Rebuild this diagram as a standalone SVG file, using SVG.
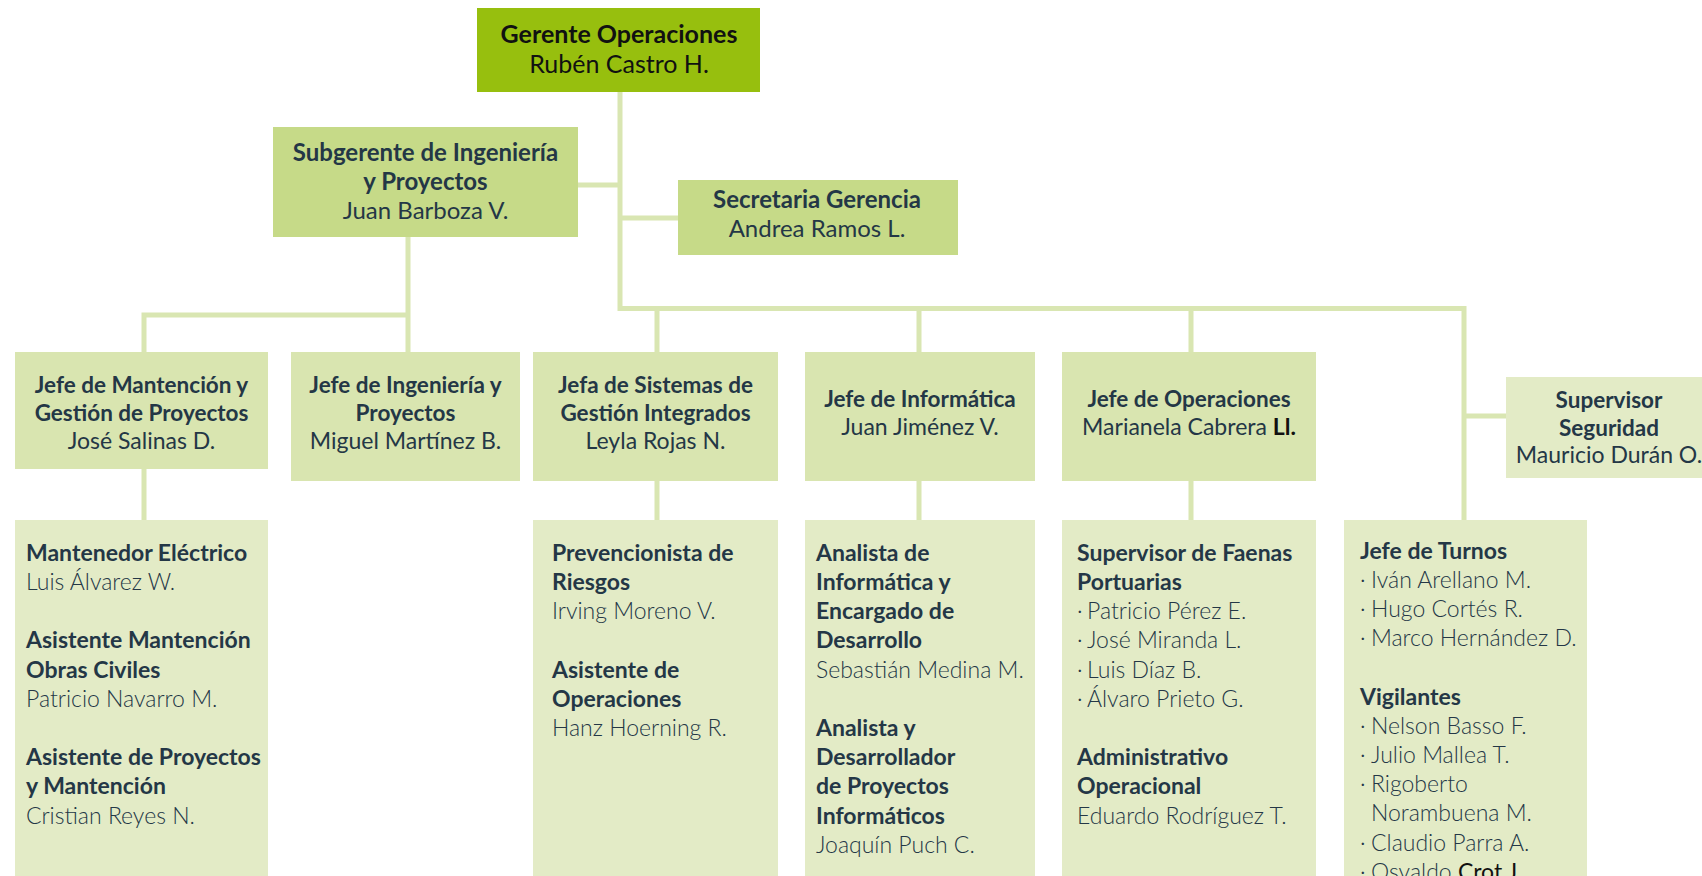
<svg xmlns="http://www.w3.org/2000/svg" width="1702" height="876" viewBox="0 0 1702 876">
<style>
text{font-family:Lato,"Open Sans","Liberation Sans",sans-serif;fill:#243746}
.c{text-anchor:middle}
.t{font-weight:700;font-size:24px}
.h{font-weight:700;font-size:22.5px}
.n{font-weight:400;font-size:23px}
.b{font-weight:700;font-size:23px}
.l{font-weight:300;font-size:23px}
.k{fill:#111}
.top{fill:#97bf0e}
.mid{fill:#c6da88}
.l2{fill:#d9e5b0}
.l3{fill:#e3ebc6}
#connectors path{fill:none;stroke:#d9e6b2;stroke-width:5}
</style>
<g id="connectors">
<path d="M620 92 V308.5 H1464 V520"/>
<path d="M578 185 H620"/>
<path d="M620 218 H678"/>
<path d="M657 308.5 V352 M919 308.5 V352 M1191 308.5 V352"/>
<path d="M1464 416 H1506"/>
<path d="M408 237 V352 M408 315 H144 V352"/>
<path d="M144 469 V520 M657 481 V520 M919 481 V520 M1191 481 V520"/>
</g>
<g id="gerente">
<rect class="top" x="477" y="8" width="283" height="84"/>
<text class="c t k" x="619" y="43" style="font-size:25px">Gerente Operaciones</text>
<text class="c n k" x="619" y="72.5" style="font-size:25px">Rubén Castro H.</text>
</g>
<g id="subgerente">
<rect class="mid" x="273" y="127" width="305" height="110"/>
<text class="c t" x="425.5" y="161">Subgerente de Ingeniería</text>
<text class="c t" x="425.5" y="190">y Proyectos</text>
<text class="c n" x="425.5" y="219" style="font-size:24px">Juan Barboza V.</text>
</g>
<g id="secretaria">
<rect class="mid" x="678" y="180" width="280" height="75"/>
<text class="c t" x="817" y="208">Secretaria Gerencia</text>
<text class="c n" x="817" y="237" style="font-size:24px">Andrea Ramos L.</text>
</g>
<g id="jefe-mantencion">
<rect class="l2" x="15" y="352" width="253" height="117"/>
<text class="c h" x="141.5" y="393">Jefe de Mantención y</text>
<text class="c h" x="141.5" y="421">Gestión de Proyectos</text>
<text class="c n" x="141.5" y="449">José Salinas D.</text>
</g>
<g id="jefe-ingenieria">
<rect class="l2" x="291" y="352" width="229" height="129"/>
<text class="c h" x="405.5" y="393">Jefe de Ingeniería y</text>
<text class="c h" x="405.5" y="421">Proyectos</text>
<text class="c n" x="405.5" y="449">Miguel Martínez B.</text>
</g>
<g id="jefa-sistemas">
<rect class="l2" x="533" y="352" width="245" height="129"/>
<text class="c h" x="655.5" y="393">Jefa de Sistemas de</text>
<text class="c h" x="655.5" y="421">Gestión Integrados</text>
<text class="c n" x="655.5" y="449">Leyla Rojas N.</text>
</g>
<g id="jefe-informatica">
<rect class="l2" x="805" y="352" width="230" height="129"/>
<text class="c h" x="920" y="407">Jefe de Informática</text>
<text class="c n" x="920" y="435">Juan Jiménez V.</text>
</g>
<g id="jefe-operaciones">
<rect class="l2" x="1062" y="352" width="254" height="129"/>
<text class="c h" x="1189" y="407">Jefe de Operaciones</text>
<text class="c n" x="1189" y="435">Marianela Cabrera <tspan style="fill:#111;font-weight:700">Ll.</tspan></text>
</g>
<g id="supervisor-seguridad">
<rect class="l3" x="1506" y="377" width="206" height="101"/>
<text class="c h" x="1609" y="408">Supervisor</text>
<text class="c h" x="1609" y="436">Seguridad</text>
<text class="c n" x="1609" y="463">Mauricio Durán O.</text>
</g>
<g id="equipo-mantencion">
<rect class="l3" x="15" y="520" width="253" height="360"/>
<text class="b" x="26" y="560.7">Mantenedor Eléctrico</text>
<text class="l" x="26" y="589.9">Luis Álvarez W.</text>
<text class="b" x="26" y="648.3">Asistente Mantención</text>
<text class="b" x="26" y="677.5">Obras Civiles</text>
<text class="l" x="26" y="706.7">Patricio Navarro M.</text>
<text class="b" x="26" y="765.1">Asistente de Proyectos</text>
<text class="b" x="26" y="794.3">y Mantención</text>
<text class="l" x="26" y="823.5">Cristian Reyes N.</text>
</g>
<g id="equipo-sistemas">
<rect class="l3" x="533" y="520" width="245" height="360"/>
<text class="b" x="552" y="560.7">Prevencionista de</text>
<text class="b" x="552" y="589.9">Riesgos</text>
<text class="l" x="552" y="619.1">Irving Moreno V.</text>
<text class="b" x="552" y="677.5">Asistente de</text>
<text class="b" x="552" y="706.7">Operaciones</text>
<text class="l" x="552" y="735.9">Hanz Hoerning R.</text>
</g>
<g id="equipo-informatica">
<rect class="l3" x="805" y="520" width="230" height="360"/>
<text class="b" x="816" y="560.7">Analista de</text>
<text class="b" x="816" y="589.9">Informática y</text>
<text class="b" x="816" y="619.1">Encargado de</text>
<text class="b" x="816" y="648.3">Desarrollo</text>
<text class="l" x="816" y="677.5">Sebastián Medina M.</text>
<text class="b" x="816" y="735.9">Analista y</text>
<text class="b" x="816" y="765.1">Desarrollador</text>
<text class="b" x="816" y="794.3">de Proyectos</text>
<text class="b" x="816" y="823.5">Informáticos</text>
<text class="l" x="816" y="852.7">Joaquín Puch C.</text>
</g>
<g id="equipo-operaciones">
<rect class="l3" x="1062" y="520" width="254" height="360"/>
<text class="b" x="1077" y="560.7">Supervisor de Faenas</text>
<text class="b" x="1077" y="589.9">Portuarias</text>
<text class="l" y="619.1"><tspan x="1077">·</tspan> <tspan x="1087">Patricio Pérez E.</tspan></text>
<text class="l" y="648.3"><tspan x="1077">·</tspan> <tspan x="1087">José Miranda L.</tspan></text>
<text class="l" y="677.5"><tspan x="1077">·</tspan> <tspan x="1087">Luis Díaz B.</tspan></text>
<text class="l" y="706.7"><tspan x="1077">·</tspan> <tspan x="1087">Álvaro Prieto G.</tspan></text>
<text class="b" x="1077" y="765.1">Administrativo</text>
<text class="b" x="1077" y="794.3">Operacional</text>
<text class="l" x="1077" y="823.5">Eduardo Rodríguez T.</text>
</g>
<g id="equipo-turnos">
<rect class="l3" x="1344" y="520" width="243" height="360"/>
<text class="b" x="1360" y="558.5">Jefe de Turnos</text>
<text class="l" y="587.7"><tspan x="1360">·</tspan> <tspan x="1371">Iván Arellano M.</tspan></text>
<text class="l" y="616.9"><tspan x="1360">·</tspan> <tspan x="1371">Hugo Cortés R.</tspan></text>
<text class="l" y="646.1"><tspan x="1360">·</tspan> <tspan x="1371">Marco Hernández D.</tspan></text>
<text class="b" x="1360" y="704.5">Vigilantes</text>
<text class="l" y="733.7"><tspan x="1360">·</tspan> <tspan x="1371">Nelson Basso F.</tspan></text>
<text class="l" y="762.9"><tspan x="1360">·</tspan> <tspan x="1371">Julio Mallea T.</tspan></text>
<text class="l" y="792.1"><tspan x="1360">·</tspan> <tspan x="1371">Rigoberto</tspan></text>
<text class="l" x="1371" y="821.3">Norambuena M.</text>
<text class="l" y="850.5"><tspan x="1360">·</tspan> <tspan x="1371">Claudio Parra A.</tspan></text>
<text class="l" y="879.7"><tspan x="1360">·</tspan> <tspan x="1371">Osvaldo <tspan style="fill:#111;font-weight:400">Crot J.</tspan></tspan></text>
</g>
</svg>
